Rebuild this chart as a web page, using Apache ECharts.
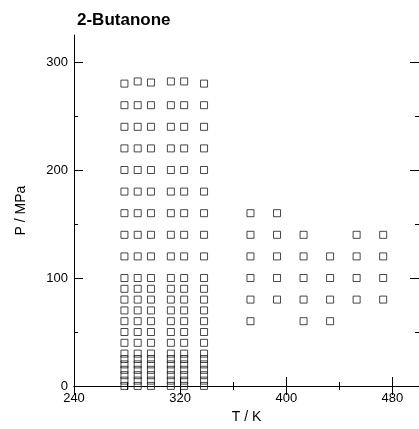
<!DOCTYPE html>
<html>
<head>
<meta charset="utf-8">
<script src="https://cdn.jsdelivr.net/npm/echarts@6/dist/echarts.min.js"></script>
<style>
  html, body { margin: 0; padding: 0; background: #fff; }
  #chart { width: 419px; height: 429px; }
</style>
</head>
<body>
<div id="chart"></div>
<script>
// low temperature isotherms share the same pressure grid
const lowTemps = [278, 288, 298, 313, 323, 338];
const lowPressures = [0.1, 5, 10, 15, 20, 25, 30, 40, 50, 60, 70, 80, 90, 100,
  120, 140, 160, 180, 200, 220, 240, 260];
const lowTopPressures = [280, 282, 281, 282, 282, 280];

// high temperature isotherms
const highTemps = [373, 393, 413, 433, 453, 473];
const highPressures = [
  [60, 80, 100, 120, 140, 160],
  [80, 100, 120, 140, 160],
  [60, 80, 100, 120, 140],
  [60, 80, 100, 120],
  [80, 100, 120, 140],
  [80, 100, 120, 140],
];

const xTicks = [240, 320, 400, 480];
const xMinorTicks = [280, 360, 440];
const yTicks = [0, 100, 200, 300];
const yMinorTicks = [50, 150, 250];

document.addEventListener("DOMContentLoaded", function () {
  const chart = echarts.init(document.getElementById("chart"));

  const points = [];
  lowTemps.forEach(function (t, i) {
    lowPressures.forEach(function (p) { points.push([t, p]); });
    points.push([t, lowTopPressures[i]]);
  });
  highTemps.forEach(function (t, i) {
    highPressures[i].forEach(function (p) { points.push([t, p]); });
  });

  const font = "Liberation Sans, Arial, sans-serif";
  const labelStyle = { margin: 6, fontFamily: font, fontSize: 13, color: "#000" };

  // one axis with line + major ticks, or an overlay with only short minor ticks
  function makeAxis(min, max, majors, minors, position, isMinor) {
    return {
      type: "value",
      position: position,
      min: min,
      max: max,
      axisLine: { show: !isMinor, lineStyle: { color: "#000", width: 1 } },
      axisTick: {
        show: true,
        inside: true,
        length: isMinor ? 4 : 9,
        customValues: isMinor ? minors : majors,
        lineStyle: { color: "#000" },
      },
      axisLabel: { show: false },
      splitLine: { show: false },
    };
  }

  const xBottom = makeAxis(240, 500, xTicks, xMinorTicks, "bottom", false);
  xBottom.name = "T / K";
  xBottom.nameLocation = "middle";
  xBottom.nameGap = 24;
  xBottom.nameTextStyle = { fontFamily: font, fontSize: 14, color: "#000" };
  xBottom.axisLabel = Object.assign({ show: true, customValues: xTicks }, labelStyle);

  const yLeft = makeAxis(0, 325, yTicks, yMinorTicks, "left", false);
  yLeft.name = "P / MPa";
  yLeft.nameLocation = "middle";
  yLeft.nameGap = 46;
  yLeft.nameTextStyle = { fontFamily: font, fontSize: 14, color: "#000" };
  yLeft.axisLabel = Object.assign({ show: true, customValues: yTicks }, labelStyle);

  const option = {
    animation: false,
    backgroundColor: "#fff",
    title: {
      text: "2-Butanone",
      left: 72,
      top: 7,
      textStyle: { fontFamily: font, fontSize: 17, fontWeight: "bold", color: "#000" },
    },
    grid: { left: 74, top: 35, width: 353, height: 355 },
    xAxis: [
      xBottom,
      makeAxis(240, 500, xTicks, xMinorTicks, "top", false),
      makeAxis(240, 500, xTicks, xMinorTicks, "bottom", true),
      makeAxis(240, 500, xTicks, xMinorTicks, "top", true),
    ],
    yAxis: [
      yLeft,
      makeAxis(0, 325, yTicks, yMinorTicks, "right", false),
      makeAxis(0, 325, yTicks, yMinorTicks, "left", true),
      makeAxis(0, 325, yTicks, yMinorTicks, "right", true),
    ],
    series: [
      {
        type: "scatter",
        xAxisIndex: 0,
        yAxisIndex: 0,
        data: points,
        symbol: "rect",
        symbolSize: 7,
        itemStyle: { color: "rgba(0,0,0,0)", borderColor: "#1a1a1a", borderWidth: 1 },
        emphasis: { disabled: true },
      },
    ],
  };

  chart.setOption(option);
});
</script>
</body>
</html>
